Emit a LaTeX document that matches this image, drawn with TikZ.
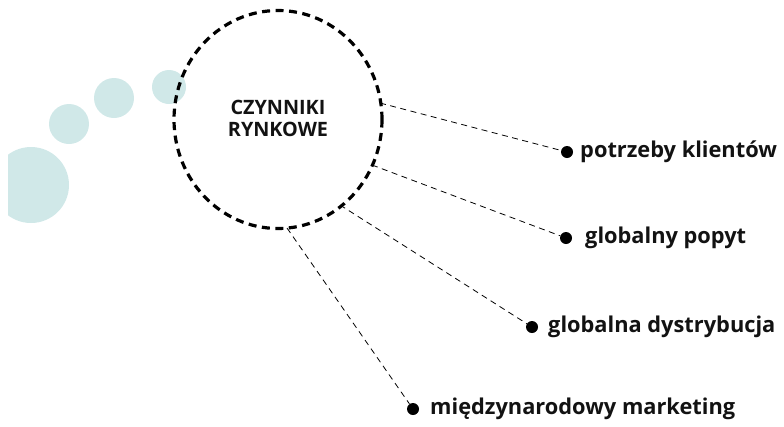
\documentclass[tikz,border=0pt]{standalone}
\usepackage{fontspec}
\setmainfont{Open Sans}
\usetikzlibrary{shapes.geometric}
\definecolor{teal1}{HTML}{D0E8E8}
\begin{document}
\begin{tikzpicture}[x=1pt,y=-1pt,
  blob/.style={fill=teal1},
  bigring/.style={draw=black,line width=3.2pt,dash pattern=on 8pt off 5.5pt},
  link/.style={draw=black,line width=0.8pt,dash pattern=on 6pt off 4.5pt},
  dot/.style={circle,fill=black,inner sep=0pt,minimum size=12pt},
  lbl/.style={anchor=west,inner sep=0pt,font=\fontsize{21.8}{24}\selectfont\bfseries,text=black!93}]
\useasboundingbox (0,0) rectangle (784,426);
\begin{scope}
\clip (8,0) rectangle (784,426);
\fill[blob] (31,185) circle (38);
\end{scope}
\fill[blob] (69,124) circle (20);
\fill[blob] (114,98) circle (20);
\fill[blob] (169,87) circle (17);
\draw[bigring] (278,119.5) ellipse [x radius=104, y radius=109];
\node[align=center,font=\fontsize{19.8}{22}\selectfont\bfseries,text=black!93] (c) at (278,118) {CZYNNIKI\\RYNKOWE};
\coordinate (s1) at (380,103);
\coordinate (s2) at (372,165);
\coordinate (s3) at (340,205);
\coordinate (s4) at (287,228);
\node[dot] (b1) at (567,152) {};
\node[dot] (b2) at (566,238) {};
\node[dot] (b3) at (532,327) {};
\node[dot] (b4) at (413,409) {};
\node[lbl] (t1) at (580,152) {potrzeby klientów};
\node[lbl] (t2) at (585,238) {globalny popyt};
\node[lbl] (t3) at (548,327) {globalna dystrybucja};
\node[lbl] (t4) at (430,409) {międzynarodowy marketing};
\draw[link] (s1) -- (b1);
\draw[link] (s2) -- (b2);
\draw[link] (s3) -- (b3);
\draw[link] (s4) -- (b4);
\end{tikzpicture}
\end{document}
